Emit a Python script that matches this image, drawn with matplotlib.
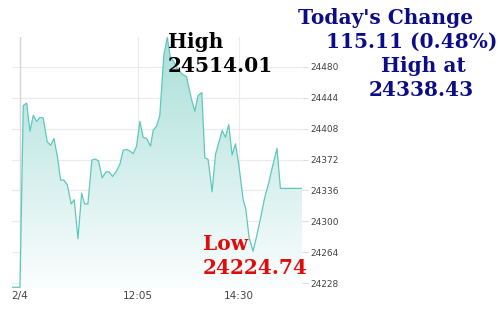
import numpy as np
import matplotlib.pyplot as plt
from matplotlib.colors import LinearSegmentedColormap

# minutes from 9:15 (the "2/4" tick), index values
minutes = [-11.5, 0, 4.7, 9.6, 14.4, 19.1, 24.0, 28.8, 33.5, 39.3, 44.2, 48.9, 53.7, 58.6,
           63.3, 68.1, 73.8, 78.1, 83.5, 88.8, 93.1, 97.8, 103.6, 108.3, 113.2, 118.4,
           123.7, 128.5, 133.4, 139.1, 143.9, 148.6, 153.5, 158.3, 163.0, 167.9, 172.7,
           177.4, 182.3, 188.1, 191.8, 196.7, 201.4, 207.2, 212.2, 216.5, 221.6, 227.8,
           234.1, 239.9, 247.1, 251.8, 256.5, 261.9, 266.2, 270.9, 276.7, 281.6, 286.3,
           291.1, 296.0, 300.7, 305.5, 310.4, 315.1, 321.3, 325.2, 329.9, 335.7, 340.6,
           346.8, 352.5, 357.8, 364.5, 370.2, 375.1, 406.2]
values = [24223.32, 24223.32, 24435.0, 24437.6, 24405.0, 24423.4, 24416.5, 24421.1, 24420.3,
          24392.6, 24388.5, 24396.5, 24376.1, 24348.1, 24348.1, 24342.6, 24320.3, 24325.3,
          24279.9, 24333.0, 24320.3, 24320.3, 24371.5, 24372.6, 24370.3, 24350.7, 24357.6,
          24357.6, 24352.2, 24358.8, 24366.5, 24382.7, 24383.8, 24381.9, 24378.8, 24387.6,
          24416.5, 24398.0, 24396.5, 24387.6, 24406.1, 24410.7, 24423.4, 24493.5, 24514.01,
          24491.5, 24485.8, 24476.2, 24471.1, 24468.5, 24441.9, 24428.1, 24446.5, 24450.0,
          24374.1, 24372.3, 24334.5, 24378.1, 24391.5, 24405.8, 24398.0, 24412.7, 24377.3,
          24390.3, 24366.5, 24326.1, 24314.6, 24281.8, 24265.3, 24281.8, 24304.9, 24327.9,
          24343.4, 24366.5, 24385.0, 24338.43, 24338.43]

x_ticks = [0, 170, 315]
x_labels = ["2/4", "12:05", "14:30"]
y_ticks = [24228, 24264, 24300, 24336, 24372, 24408, 24444, 24480]

high_text = "24514.01"
low_text = "24224.74"
change_text = "115.11 (0.48%)"
last_text = "24338.43"

fig = plt.figure(figsize=(5, 3.2), dpi=100)
ax = fig.add_axes([0.024, 0.1, 0.58, 0.784])

x = np.array(minutes)
y = np.array(values)
ymin, ymax = 24222.5, 24514.5
ax.set_xlim(x[0], x[-1])
ax.set_ylim(ymin, ymax)

# gradient fill under the line
cmap = LinearSegmentedColormap.from_list("g", ["#fbfefe", "#a9dfd9"])
grad = np.linspace(0, 1, 256).reshape(-1, 1)
im = ax.imshow(grad, cmap=cmap, aspect="auto", origin="lower",
               extent=[x[0], x[-1], ymin, ymax], zorder=1)
poly = ax.fill_between(x, y, ymin, facecolor="none", edgecolor="none")
im.set_clip_path(poly.get_paths()[0], transform=ax.transData)
ax.plot(x, y, color="#5fc8bd", lw=0.9, zorder=3)

# grid
for t in y_ticks:
    ax.axhline(t, color="#ebebeb", lw=0.8, zorder=0)
ax.axvline(x_ticks[0], color="#d6d6d6", lw=1.0, zorder=0)
for t in x_ticks[1:]:
    ax.axvline(t, color="#ebebeb", lw=0.8, zorder=0)

ax.set_xticks(x_ticks)
ax.set_xticklabels(x_labels)
ax.set_yticks(y_ticks)
ax.yaxis.tick_right()
ax.tick_params(axis="y", length=4, color="#dddddd", pad=2, labelsize=6.5, labelcolor="#444444")
ax.tick_params(axis="x", length=0, pad=2, labelsize=7.5, labelcolor="#444444")
for s in ax.spines.values():
    s.set_visible(False)

def ftext(px, py, s, color):
    fig.text(px / 500, 1 - py / 320, s, ha="left", va="baseline", family="DejaVu Serif",
             fontweight="bold", fontsize=14.5, color=color)

ftext(168, 47.5, "High", "black")
ftext(168, 71.5, high_text, "black")
ftext(203, 250, "Low", "#e00b0b")
ftext(203, 274, low_text, "#e00b0b")
navy = "#0c0c88"
ftext(298, 23.5, "Today's Change", navy)
ftext(326.5, 47.5, change_text, navy)
ftext(381, 71.5, "High at", navy)
ftext(369, 95.5, last_text, navy)

fig.savefig("out.png", dpi=100)
